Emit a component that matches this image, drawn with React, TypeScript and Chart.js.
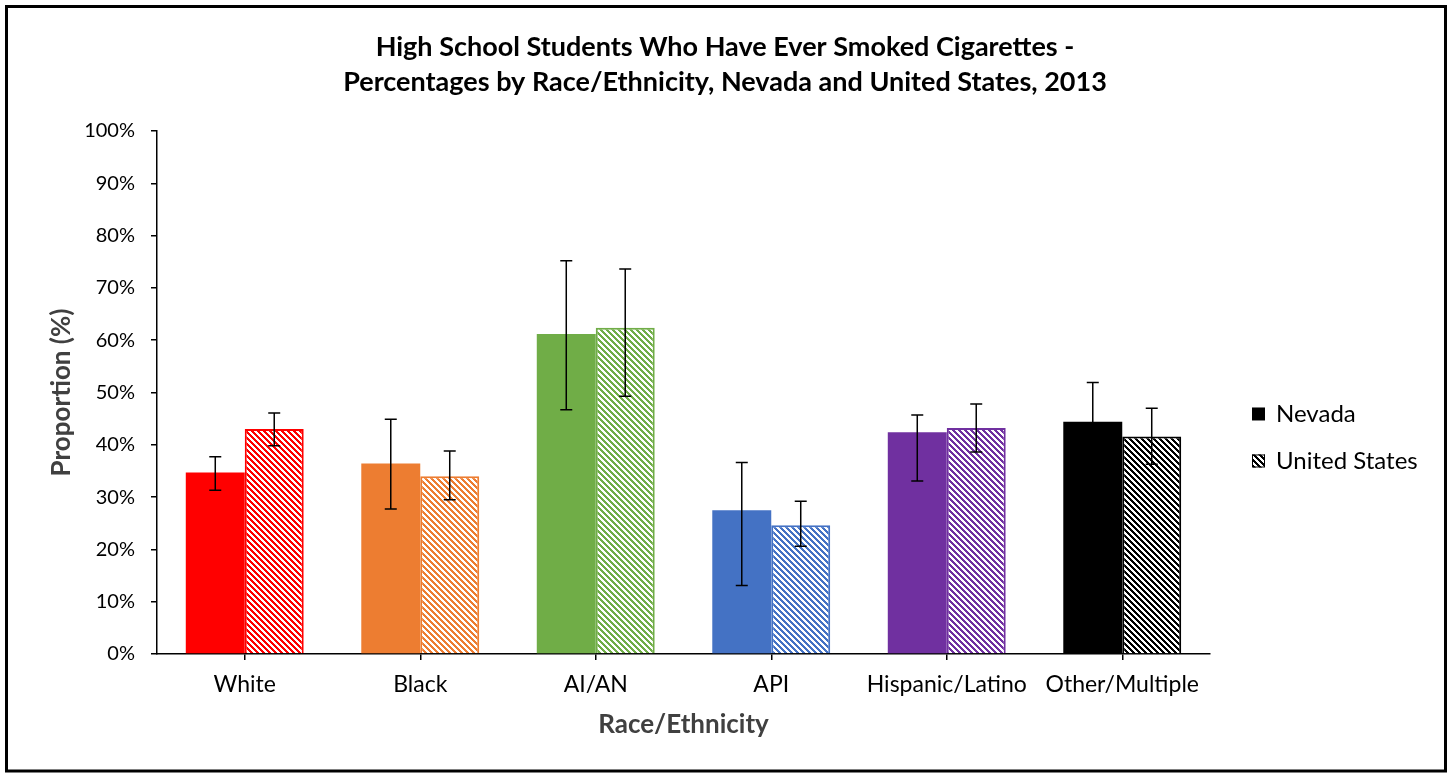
import React, { useEffect, useRef } from 'react';
import { Chart, registerables } from 'chart.js';

Chart.register(...registerables);

const chartTitle = [
  'High School Students Who Have Ever Smoked Cigarettes -',
  'Percentages by Race/Ethnicity, Nevada and United States, 2013',
];
const categories = ['White', 'Black', 'AI/AN', 'API', 'Hispanic/Latino', 'Other/Multiple'];
const seriesNames = ['Nevada', 'United States'];
const nevadaValues = [34.7, 36.4, 61.2, 27.5, 42.4, 44.4];
const nevadaLow = [31.3, 27.7, 46.7, 13.1, 33.1, 40.7];
const nevadaHigh = [37.7, 44.9, 75.2, 36.6, 45.7, 51.9];
const usValues = [43.0, 34.0, 62.4, 24.6, 43.2, 41.6];
const usLow = [39.8, 29.5, 49.3, 20.6, 38.6, 36.3];
const usHigh = [46.1, 38.8, 73.6, 29.2, 47.8, 47.0];
const categoryColors = ['#FF0000', '#ED7D31', '#70AD47', '#4472C4', '#7030A0', '#000000'];
const yAxisTitle = 'Proportion (%)';
const xAxisTitle = 'Race/Ethnicity';
const yMin = 0;
const yMax = 100;
const yStep = 10;

const FONT = 'Lato, "Open Sans", sans-serif';

function makeHatch(color: string): CanvasPattern {
  const n = 6;
  const c = document.createElement('canvas');
  c.width = n;
  c.height = n;
  const ctx = c.getContext('2d')!;
  ctx.fillStyle = '#ffffff';
  ctx.fillRect(0, 0, n, n);
  ctx.fillStyle = color;
  for (let y = 0; y < n; y++) {
    for (let x = 0; x < n; x++) {
      if ((((x - y) % n) + n) % n < 3) ctx.fillRect(x, y, 1, 1);
    }
  }
  return ctx.createPattern(c, 'repeat')!;
}

const errorBarPlugin = {
  id: 'errorBars',
  afterDatasetsDraw(chart: any) {
    const ctx = chart.ctx;
    const yScale = chart.scales.y;
    const ranges = [
      [nevadaLow, nevadaHigh],
      [usLow, usHigh],
    ];
    ranges.forEach(([lo, hi], di) => {
      const meta = chart.getDatasetMeta(di);
      meta.data.forEach((bar: any, i: number) => {
        const x = bar.x;
        const yl = yScale.getPixelForValue(lo[i]);
        const yh = yScale.getPixelForValue(hi[i]);
        ctx.save();
        ctx.strokeStyle = '#000000';
        ctx.lineWidth = 1.5;
        ctx.beginPath();
        ctx.moveTo(x, yl);
        ctx.lineTo(x, yh);
        ctx.moveTo(x - 6, yl);
        ctx.lineTo(x + 6, yl);
        ctx.moveTo(x - 6, yh);
        ctx.lineTo(x + 6, yh);
        ctx.stroke();
        ctx.restore();
      });
    });
  },
};

const frameAndLegendPlugin = {
  id: 'frameAndLegend',
  beforeDraw(chart: any) {
    const ctx = chart.ctx;
    ctx.save();
    ctx.fillStyle = '#ffffff';
    ctx.fillRect(0, 0, chart.width, chart.height);
    ctx.restore();
  },
  afterDraw(chart: any) {
    const ctx = chart.ctx;
    const area = chart.chartArea;
    ctx.save();
    ctx.strokeStyle = '#000000';
    ctx.lineWidth = 3;
    ctx.strokeRect(6.5, 6.5, chart.width - 11, chart.height - 9.5);

    const boxX = area.right + 42;
    const firstY = area.top + 283;
    const gap = 47;
    const box = 13;
    ctx.font = `24px ${FONT}`;
    ctx.textBaseline = 'middle';
    ctx.textAlign = 'left';
    seriesNames.forEach((name, i) => {
      const cy = firstY + i * gap;
      if (i === 0) {
        ctx.fillStyle = '#000000';
        ctx.fillRect(boxX, cy - box / 2, box, box);
      } else {
        ctx.fillStyle = makeHatch('#000000');
        ctx.fillRect(boxX, cy - box / 2, box, box);
        ctx.strokeStyle = '#000000';
        ctx.lineWidth = 1;
        ctx.strokeRect(boxX + 0.5, cy - box / 2 + 0.5, box - 1, box - 1);
      }
      ctx.fillStyle = '#000000';
      ctx.fillText(name, boxX + box + 11, cy);
    });
    ctx.restore();
  },
};

export default function App() {
  const canvasRef = useRef<HTMLCanvasElement | null>(null);

  useEffect(() => {
    const canvas = canvasRef.current;
    if (!canvas) return;
    const chart = new Chart(canvas, {
      type: 'bar',
      data: {
        labels: categories,
        datasets: [
          {
            label: seriesNames[0],
            data: nevadaValues,
            backgroundColor: categoryColors,
            borderColor: categoryColors,
            borderWidth: 0,
          },
          {
            label: seriesNames[1],
            data: usValues,
            backgroundColor: categoryColors.map((c) => makeHatch(c)),
            borderColor: categoryColors,
            borderWidth: 2,
          },
        ],
      },
      options: {
        responsive: false,
        animation: false,
        devicePixelRatio: 1,
        datasets: {
          bar: { categoryPercentage: 0.672, barPercentage: 1.0 },
        },
        layout: { padding: { left: 0, right: 0, top: 0, bottom: 29.4 } },
        plugins: {
          legend: { display: false },
          tooltip: { enabled: false },
          title: {
            display: true,
            text: chartTitle,
            color: '#000000',
            font: { family: FONT, size: 27, weight: 'bold', lineHeight: 1.296 },
            padding: { top: 29.5, bottom: 31.5 },
          },
        },
        scales: {
          x: {
            offset: true,
            grid: {
              offset: false,
              drawOnChartArea: false,
              drawTicks: true,
              tickLength: 6,
              color: '#000000',
              lineWidth: 1.5,
            },
            border: { display: true, color: '#000000', width: 1.5 },
            ticks: { color: '#000000', font: { family: FONT, size: 23 }, padding: 11 },
            title: {
              display: true,
              text: xAxisTitle,
              color: '#404040',
              font: { family: FONT, size: 26, weight: 'bold' },
              padding: { top: 10, bottom: 4 },
            },
            afterFit(scale: any) {
              scale.height = 90.6;
            },
          },
          y: {
            min: yMin,
            max: yMax,
            grid: {
              drawOnChartArea: false,
              drawTicks: true,
              tickLength: 6,
              color: '#000000',
              lineWidth: 1.5,
            },
            border: { display: true, color: '#000000', width: 1.5 },
            ticks: {
              stepSize: yStep,
              color: '#000000',
              font: { family: FONT, size: 20 },
              padding: 16,
              callback: (v: any) => `${v}%`,
            },
            title: {
              display: true,
              text: yAxisTitle,
              color: '#404040',
              font: { family: FONT, size: 26, weight: 'bold' },
              padding: { top: 46, bottom: 4 },
            },
            afterFit(scale: any) {
              scale.width = 157;
            },
          },
          legendSpace: {
            type: 'linear',
            position: 'right',
            min: yMin,
            max: yMax,
            display: true,
            grid: { display: false, drawTicks: false },
            border: { display: false },
            ticks: { display: false },
            afterFit(scale: any) {
              scale.width = 240;
            },
          },
        },
      },
      plugins: [errorBarPlugin, frameAndLegendPlugin],
    });
    return () => chart.destroy();
  }, []);

  return (
    <div style={{ position: 'absolute', left: 0, top: 0, width: 1450, height: 774, background: '#ffffff' }}>
      <canvas ref={canvasRef} width={1450} height={774} style={{ width: 1450, height: 774, display: 'block' }} />
    </div>
  );
}
